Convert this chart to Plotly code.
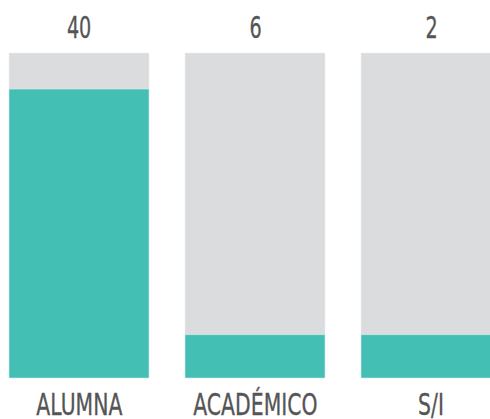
import plotly.graph_objects as go

categories = ["ALUMNA", "ACADÉMICO", "S/I"]
values = [40, 6, 2]
shown_heights = [40, 6, 6]   # bar heights as drawn (small values shown with a minimum height)
scale_max = 45

teal = "#43BFB3"
gray = "#DBDCDE"
txt = "#555555"
font_family = "DejaVu Sans"

x = list(range(len(categories)))
W, H = 490, 419
px_per_cat = 176.0
x0_px = 79.0
bottom_px = 378.0
px_per_unit = 325.0 / scale_max

fig = go.Figure()
fig.add_trace(go.Bar(x=x, y=[scale_max] * len(x), marker_color=gray, width=140 / px_per_cat,
                     hoverinfo="skip", showlegend=False))
fig.add_trace(go.Bar(x=x, y=shown_heights, marker_color=teal, width=140 / px_per_cat,
                     customdata=values, hovertemplate="%{customdata}<extra></extra>", showlegend=False))

for i, (c, v) in enumerate(zip(categories, values)):
    fig.add_annotation(x=i, y=(bottom_px - 27) / px_per_unit, text=str(v), showarrow=False,
                       font=dict(family=font_family, size=30, color=txt),
                       xanchor="center", yanchor="middle")
    fig.add_annotation(x=i, y=(bottom_px - 404) / px_per_unit, text=c, showarrow=False,
                       font=dict(family=font_family, size=30, color=txt),
                       xanchor="center", yanchor="middle")

fig.update_layout(
    width=W, height=H, barmode="overlay", bargap=0,
    margin=dict(l=0, r=0, t=0, b=0),
    paper_bgcolor="white", plot_bgcolor="white",
    xaxis=dict(range=[-x0_px / px_per_cat, (W - x0_px) / px_per_cat], visible=False, fixedrange=True),
    yaxis=dict(range=[-(H - bottom_px) / px_per_unit, bottom_px / px_per_unit], visible=False, fixedrange=True),
)
post = (
    "document.body.style.margin='0';document.body.style.overflow='hidden';"
    "document.querySelectorAll('.annotation-text').forEach(function(el,i){"
    "var s=(i%2===0)?0.64:0.68;"
    "var b=el.getBBox();var cx=b.x+b.width/2;"
    "el.setAttribute('transform','translate('+cx+',0) scale('+s+',1) translate('+(-cx)+',0)');"
    "el.style.stroke='" + txt + "';el.style.strokeWidth='0.35px';"
    "});"
)
fig.write_html("out.html", post_script=post, config={"displayModeBar": False, "staticPlot": True})
